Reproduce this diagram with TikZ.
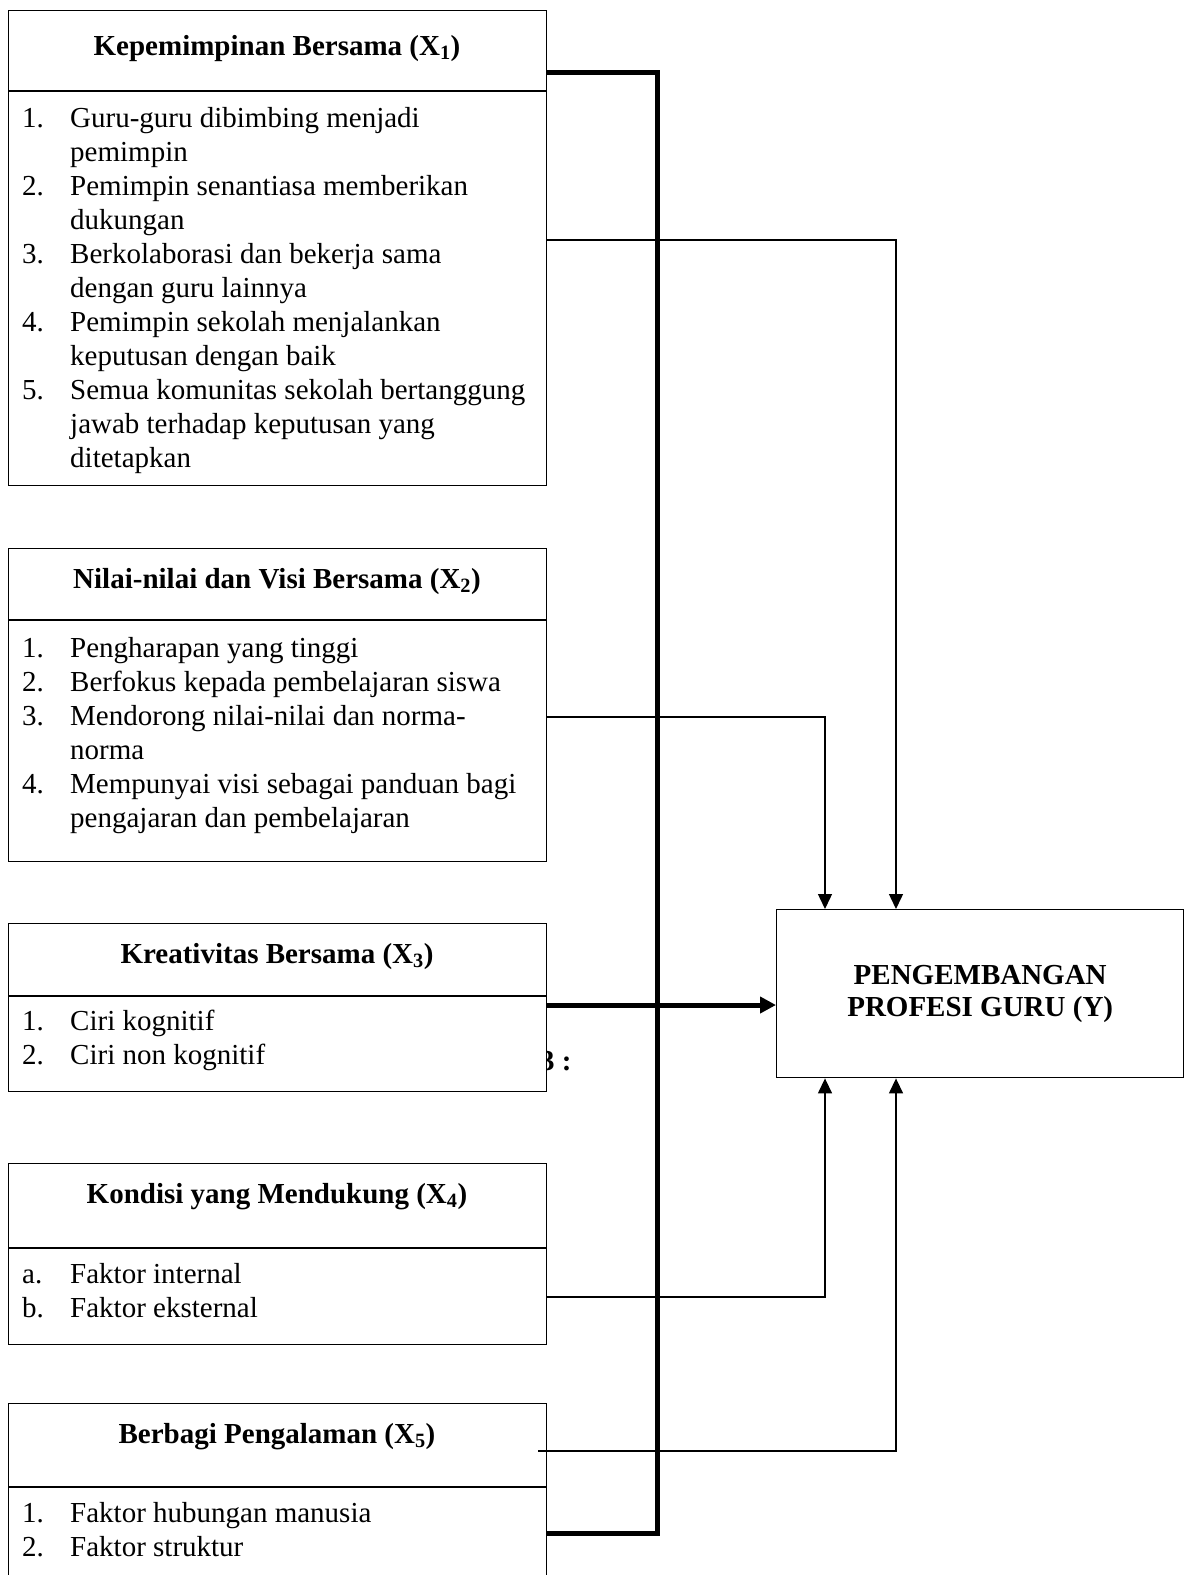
\documentclass[tikz,border=0pt]{standalone}
\usepackage{fontspec}
\setmainfont{Liberation Serif}
\usetikzlibrary{arrows.meta}
\newcommand\lititem[2]{\makebox[48pt][l]{#1}#2}
\newcommand\litcont[1]{\hspace*{48pt}#1}
\begin{document}
\begin{tikzpicture}[x=1pt,y=-1pt,
  box/.style={draw, line width=1.4pt, inner sep=0pt, anchor=north west, fill=white},
  titletext/.style={anchor=base, inner sep=0pt, font=\bfseries\fontsize{29}{33.5}\selectfont},
  items/.style={anchor=base west, inner sep=0pt, font=\fontsize{29}{34}\selectfont},
  conn/.style={line width=1.4pt},
  bus/.style={line width=5pt, line join=miter},
  arr/.style={-{Triangle[length=15pt,width=14pt]}},
  bigarr/.style={-{Triangle[length=16pt,width=16pt]}}
]
\useasboundingbox (0,0) rectangle (1185,1575);

% partially hidden label
\node[anchor=base west, inner sep=0pt, font=\bfseries\fontsize{29}{33.5}\selectfont] (lbl) at (540,1070) {3 :};

% boxes
\node[box, minimum width=538, minimum height=475] (x1) at (8,10) {};
\node[box, minimum width=538, minimum height=313] (x2) at (8,548) {};
\node[box, minimum width=538, minimum height=168] (x3) at (8,923) {};
\node[box, minimum width=538, minimum height=181] (x4) at (8,1163) {};
\node[box, minimum width=538, minimum height=200] (x5) at (8,1403) {};
\node[box, minimum width=407, minimum height=168, align=center,
      font=\bfseries\fontsize{29}{32}\selectfont] (y) at (776,909)
      {PENGEMBANGAN\\PROFESI GURU (Y)};

% dividers
\coordinate (d1) at (0,91);
\coordinate (d2) at (0,620);
\coordinate (d3) at (0,996);
\coordinate (d4) at (0,1248);
\coordinate (d5) at (0,1487);
\draw[conn] (x1.west |- d1) -- (x1.east |- d1);
\draw[conn] (x2.west |- d2) -- (x2.east |- d2);
\draw[conn] (x3.west |- d3) -- (x3.east |- d3);
\draw[conn] (x4.west |- d4) -- (x4.east |- d4);
\draw[conn] (x5.west |- d5) -- (x5.east |- d5);

% titles
\node[titletext] (t1) at (277,55) {Kepemimpinan Bersama (X\textsubscript{1})};
\node[titletext] (t2) at (277,588) {Nilai-nilai dan Visi Bersama (X\textsubscript{2})};
\node[titletext] (t3) at (277,963) {Kreativitas Bersama (X\textsubscript{3})};
\node[titletext] (t4) at (277,1203) {Kondisi yang Mendukung (X\textsubscript{4})};
\node[titletext] (t5) at (277,1443) {Berbagi Pengalaman (X\textsubscript{5})};

% item lists
\node[items] (i1) at (22,127) {\begin{tabular}[t]{@{}l@{}}
\lititem{1.}{Guru-guru dibimbing menjadi}\\
\litcont{pemimpin}\\
\lititem{2.}{Pemimpin senantiasa memberikan}\\
\litcont{dukungan}\\
\lititem{3.}{Berkolaborasi dan bekerja sama}\\
\litcont{dengan guru lainnya}\\
\lititem{4.}{Pemimpin sekolah menjalankan}\\
\litcont{keputusan dengan baik}\\
\lititem{5.}{Semua komunitas sekolah bertanggung}\\
\litcont{jawab terhadap keputusan yang}\\
\litcont{ditetapkan}
\end{tabular}};
\node[items] (i2) at (22,657) {\begin{tabular}[t]{@{}l@{}}
\lititem{1.}{Pengharapan yang tinggi}\\
\lititem{2.}{Berfokus kepada pembelajaran siswa}\\
\lititem{3.}{Mendorong nilai-nilai dan norma-}\\
\litcont{norma}\\
\lititem{4.}{Mempunyai visi sebagai panduan bagi}\\
\litcont{pengajaran dan pembelajaran}
\end{tabular}};
\node[items] (i3) at (22,1030) {\begin{tabular}[t]{@{}l@{}}
\lititem{1.}{Ciri kognitif}\\
\lititem{2.}{Ciri non kognitif}
\end{tabular}};
\node[items] (i4) at (22,1283) {\begin{tabular}[t]{@{}l@{}}
\lititem{a.}{Faktor internal}\\
\lititem{b.}{Faktor eksternal}
\end{tabular}};
\node[items] (i5) at (22,1522) {\begin{tabular}[t]{@{}l@{}}
\lititem{1.}{Faktor hubungan manusia}\\
\lititem{2.}{Faktor struktur}
\end{tabular}};

% thick bus
\coordinate (bt) at (657,72);
\coordinate (bb) at (657,1533);
\draw[bus] (x1.east |- bt) -- (bt) -- (bb) -- (x5.east |- bb);

% thick arrow from X3
\coordinate (ta) at (0,1005);
\draw[bus, bigarr] (x3.east |- ta) -- (y.west |- ta);

% thin connectors
\coordinate (c1) at (896,240);
\draw[conn, arr] (x1.east |- c1) -- (c1) -- (y.north -| c1);
\coordinate (c2) at (825,717);
\draw[conn, arr] (x2.east |- c2) -- (c2) -- (y.north -| c2);
\coordinate (c4) at (825,1297);
\draw[conn, arr] (x4.east |- c4) -- (c4) -- (y.south -| c4);
\coordinate (c5s) at (538,1451);
\coordinate (c5) at (896,1451);
\draw[conn, arr] (c5s) -- (c5) -- (y.south -| c5);
\end{tikzpicture}
\end{document}
